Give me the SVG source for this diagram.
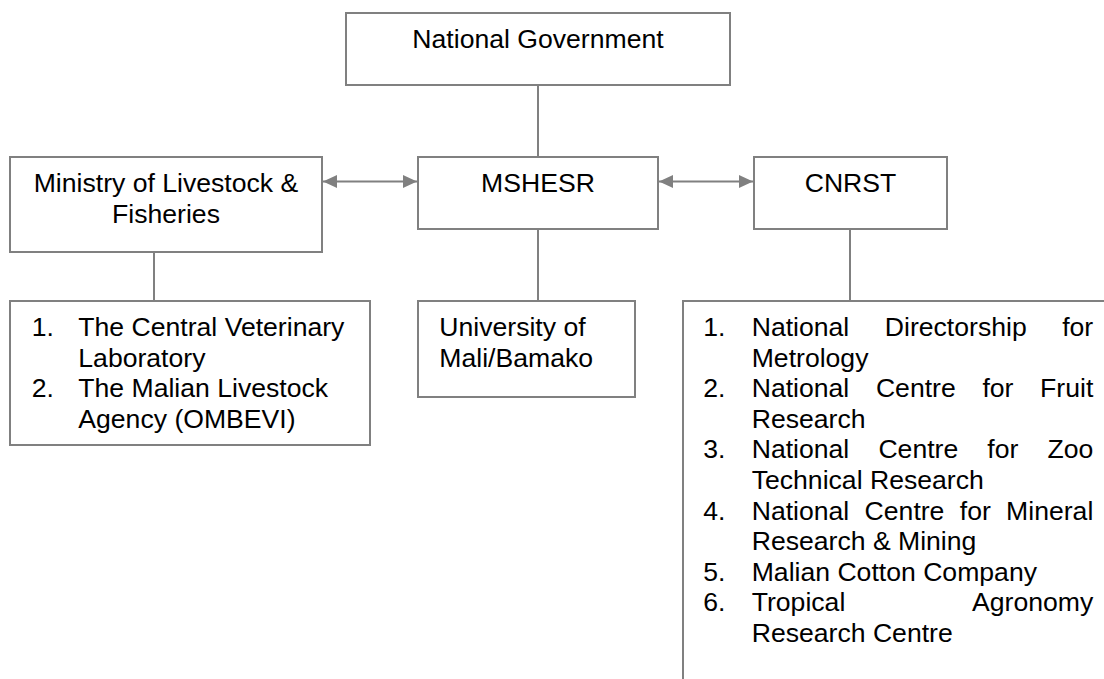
<svg xmlns="http://www.w3.org/2000/svg" width="1104" height="679" viewBox="0 0 1104 679">
<style>
.box{fill:#fff;stroke:#808080;stroke-width:2}
.ln{stroke:#808080;stroke-width:2;fill:none}
text{font-family:"Liberation Sans",Arial,sans-serif;font-size:26.6px;fill:#000}
.c{text-anchor:middle}
</style>
<defs>
<marker id="ah" markerUnits="userSpaceOnUse" markerWidth="15" markerHeight="14" refX="14" refY="6.5" orient="auto-start-reverse">
<path d="M0,0 L14,6.5 L0,13 z" fill="#808080"/>
</marker>
</defs>
<rect width="1104" height="679" fill="#fff"/>
<g id="connectors">
<line class="ln" x1="538" y1="85" x2="538" y2="157"/>
<line class="ln" x1="538" y1="229" x2="538" y2="301"/>
<line class="ln" x1="850" y1="229" x2="850" y2="301"/>
<line class="ln" x1="154" y1="252" x2="154" y2="301"/>
<line class="ln" x1="323" y1="181.5" x2="417" y2="181.5" marker-start="url(#ah)" marker-end="url(#ah)"/>
<line class="ln" x1="659" y1="181.5" x2="753" y2="181.5" marker-start="url(#ah)" marker-end="url(#ah)"/>
</g>
<g id="national-government">
<rect class="box" x="346" y="13" width="384" height="72"/>
<text class="c" x="538" y="48">National Government</text>
</g>
<g id="ministry">
<rect class="box" x="10" y="157" width="312" height="95"/>
<text class="c" x="166" y="192">Ministry of Livestock &amp;</text>
<text class="c" x="166" y="222.6">Fisheries</text>
</g>
<g id="mshesr">
<rect class="box" x="418" y="157" width="240" height="72"/>
<text class="c" x="538" y="192">MSHESR</text>
</g>
<g id="cnrst">
<rect class="box" x="754" y="157" width="193" height="72"/>
<text class="c" x="850.5" y="192">CNRST</text>
</g>
<g id="ministry-units">
<rect class="box" x="10" y="301" width="360" height="144"/>
<text x="31.7" y="336">1.</text>
<text x="78.3" y="336">The Central Veterinary</text>
<text x="78.3" y="366.6">Laboratory</text>
<text x="31.7" y="397.2">2.</text>
<text x="78.3" y="397.2">The Malian Livestock</text>
<text x="78.3" y="427.8">Agency (OMBEVI)</text>
</g>
<g id="university">
<rect class="box" x="418" y="301" width="217" height="96"/>
<text x="439.3" y="336">University of</text>
<text x="439.3" y="366.6">Mali/Bamako</text>
</g>
<g id="cnrst-units">
<rect class="box" x="683" y="301" width="440" height="400"/>
<text x="703.3" y="336">1.</text>
<text y="336"><tspan x="751.7">National</tspan><tspan x="884.8">Directorship</tspan><tspan x="1062.2">for</tspan></text>
<text x="751.7" y="366.6">Metrology</text>
<text x="703.3" y="397.2">2.</text>
<text y="397.2"><tspan x="751.7">National</tspan><tspan x="875.9">Centre</tspan><tspan x="982.4">for</tspan><tspan x="1040.1">Fruit</tspan></text>
<text x="751.7" y="427.8">Research</text>
<text x="703.3" y="458.4">3.</text>
<text y="458.4"><tspan x="751.7">National</tspan><tspan x="878.4">Centre</tspan><tspan x="987.3">for</tspan><tspan x="1047.5">Zoo</tspan></text>
<text x="751.7" y="489">Technical Research</text>
<text x="703.3" y="519.6">4.</text>
<text y="519.6"><tspan x="751.7">National</tspan><tspan x="864.6">Centre</tspan><tspan x="959.8">for</tspan><tspan x="1006.1">Mineral</tspan></text>
<text x="751.7" y="550.2">Research &amp; Mining</text>
<text x="703.3" y="580.8">5.</text>
<text x="751.7" y="580.8">Malian Cotton Company</text>
<text x="703.3" y="611.4">6.</text>
<text y="611.4"><tspan x="751.7">Tropical</tspan><tspan x="972.1">Agronomy</tspan></text>
<text x="751.7" y="642">Research Centre</text>
</g>
</svg>
